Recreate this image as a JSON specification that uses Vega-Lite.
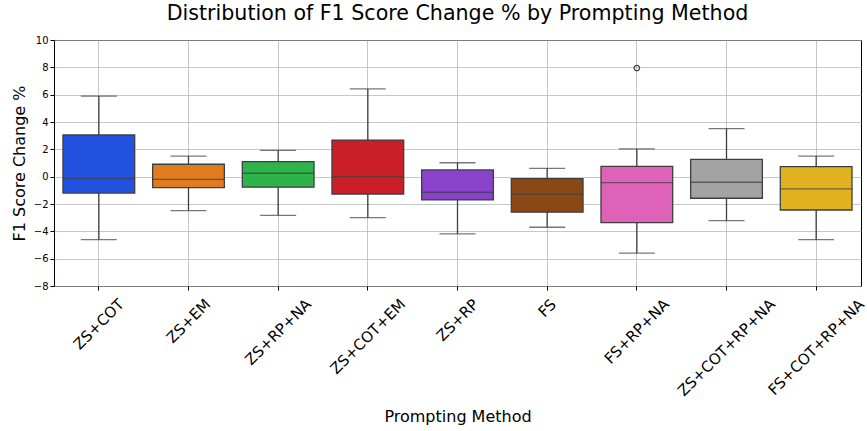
{
  "$schema": "https://vega.github.io/schema/vega-lite/v6.json",
  "width": 807,
  "height": 246,
  "autosize": {"type": "none"},
  "padding": {"left": 54, "top": 40, "right": 6, "bottom": 145},
  "background": "white",
  "config": {
    "font": "DejaVu Sans",
    "view": {"stroke": "#000000", "strokeWidth": 1},
    "axis": {"gridColor": "#b0b0b0", "gridOpacity": 0.7, "gridWidth": 1, "tickColor": "#000000", "tickSize": 4, "domain": false, "labelColor": "#000000", "titleColor": "#000000", "titleFontWeight": "normal"},
    "axisY": {"labelOverlap": "greedy", "labelSeparation": 0, "labelBound": false, "labelFlush": false, "labelFontSize": 10, "titleFontSize": 16, "titlePadding": 6, "grid": true, "tickCount": 10, "title": "F1 Score Change %"}
  },
  "title": {"text": "Distribution of F1 Score Change % by Prompting Method", "fontSize": 20.6, "fontWeight": "normal", "font": "DejaVu Sans", "anchor": "middle", "offset": 10, "color": "#000000"},
  "datasets": {
    "boxes": [
      {"method": "ZS+COT", "lower": -4.6, "q1": -1.2, "median": -0.15, "q3": 3.05, "upper": 5.9},
      {"method": "ZS+EM", "lower": -2.48, "q1": -0.8, "median": -0.2, "q3": 0.91, "upper": 1.51},
      {"method": "ZS+RP+NA", "lower": -2.83, "q1": -0.77, "median": 0.25, "q3": 1.1, "upper": 1.93},
      {"method": "ZS+COT+EM", "lower": -3.0, "q1": -1.27, "median": 0.0, "q3": 2.68, "upper": 6.42},
      {"method": "ZS+RP", "lower": -4.19, "q1": -1.7, "median": -1.14, "q3": 0.49, "upper": 1.02},
      {"method": "FS", "lower": -3.7, "q1": -2.6, "median": -1.29, "q3": -0.15, "upper": 0.61},
      {"method": "FS+RP+NA", "lower": -5.6, "q1": -3.36, "median": -0.44, "q3": 0.76, "upper": 2.03},
      {"method": "ZS+COT+RP+NA", "lower": -3.22, "q1": -1.58, "median": -0.41, "q3": 1.27, "upper": 3.51},
      {"method": "FS+COT+RP+NA", "lower": -4.61, "q1": -2.44, "median": -0.9, "q3": 0.73, "upper": 1.51}
    ],
    "outliers": [
      {"method": "FS+RP+NA", "value": 7.95}
    ]
  },
  "encoding": {
    "x": {
      "field": "method", "type": "nominal",
      "sort": ["ZS+COT", "ZS+EM", "ZS+RP+NA", "ZS+COT+EM", "ZS+RP", "FS", "FS+RP+NA", "ZS+COT+RP+NA", "FS+COT+RP+NA"],
      "scale": {"paddingInner": 0.2, "paddingOuter": 0.1},
      "axis": {
        "title": "Prompting Method", "titleFontSize": 16, "titleY": 130, "titleBaseline": "middle",
        "labelFontSize": 15, "labelAngle": -45, "labelAlign": "center", "labelBaseline": "middle",
        "labelPadding": {"condition": [
          {"test": "datum.label === 'ZS+COT'", "value": 33.8},
          {"test": "datum.label === 'ZS+EM'", "value": 30.5},
          {"test": "datum.label === 'ZS+RP+NA'", "value": 41.6},
          {"test": "datum.label === 'ZS+COT+EM'", "value": 46.1},
          {"test": "datum.label === 'ZS+RP'", "value": 29.6},
          {"test": "datum.label === 'FS'", "value": 17.7},
          {"test": "datum.label === 'FS+RP+NA'", "value": 41.0},
          {"test": "datum.label === 'ZS+COT+RP+NA'", "value": 57.1}
        ], "value": 56.6},
        "labelOverlap": false, "labelBound": false, "grid": true, "bandPosition": 0.5
      }
    },
    "y": {"field": "q1", "type": "quantitative", "scale": {"domain": [-8, 10], "nice": false}, "title": "F1 Score Change %"}
  },
  "layer": [
    {
      "data": {"name": "boxes"},
      "mark": {"type": "rule", "color": "#3f3f3f", "strokeWidth": 1.3},
      "encoding": {
        "y": {"field": "lower", "type": "quantitative", "scale": {"domain": [-8, 10], "nice": false}, "title": "F1 Score Change %"},
        "y2": {"field": "upper"}
      }
    },
    {
      "data": {"name": "boxes"},
      "mark": {"type": "tick", "color": "#3f3f3f", "size": 36, "thickness": 1.3},
      "encoding": {"y": {"field": "lower", "type": "quantitative", "title": "F1 Score Change %"}}
    },
    {
      "data": {"name": "boxes"},
      "mark": {"type": "tick", "color": "#3f3f3f", "size": 36, "thickness": 1.3},
      "encoding": {"y": {"field": "upper", "type": "quantitative", "title": "F1 Score Change %"}}
    },
    {
      "data": {"name": "boxes"},
      "mark": {"type": "bar", "stroke": "#3f3f3f", "strokeWidth": 1.3, "width": {"band": 1}},
      "encoding": {
        "y": {"field": "q1", "type": "quantitative", "title": "F1 Score Change %"},
        "y2": {"field": "q3"},
        "color": {"field": "method", "type": "nominal", "legend": null,
          "scale": {"domain": ["ZS+COT", "ZS+EM", "ZS+RP+NA", "ZS+COT+EM", "ZS+RP", "FS", "FS+RP+NA", "ZS+COT+RP+NA", "FS+COT+RP+NA"],
            "range": ["#2251e0", "#e07b20", "#2db34a", "#cb1f28", "#8942cc", "#8b4814", "#dd62b8", "#a3a3a3", "#e0b220"]}}
      }
    },
    {
      "data": {"name": "boxes"},
      "mark": {"type": "tick", "color": "#3f3f3f", "size": 72, "thickness": 1.3},
      "encoding": {"y": {"field": "median", "type": "quantitative", "title": "F1 Score Change %"}}
    },
    {
      "data": {"name": "outliers"},
      "mark": {"type": "point", "shape": "circle", "size": 30, "filled": false, "color": "#3f3f3f", "strokeWidth": 1.2, "opacity": 1},
      "encoding": {"y": {"field": "value", "type": "quantitative", "title": "F1 Score Change %"}}
    }
  ]
}
